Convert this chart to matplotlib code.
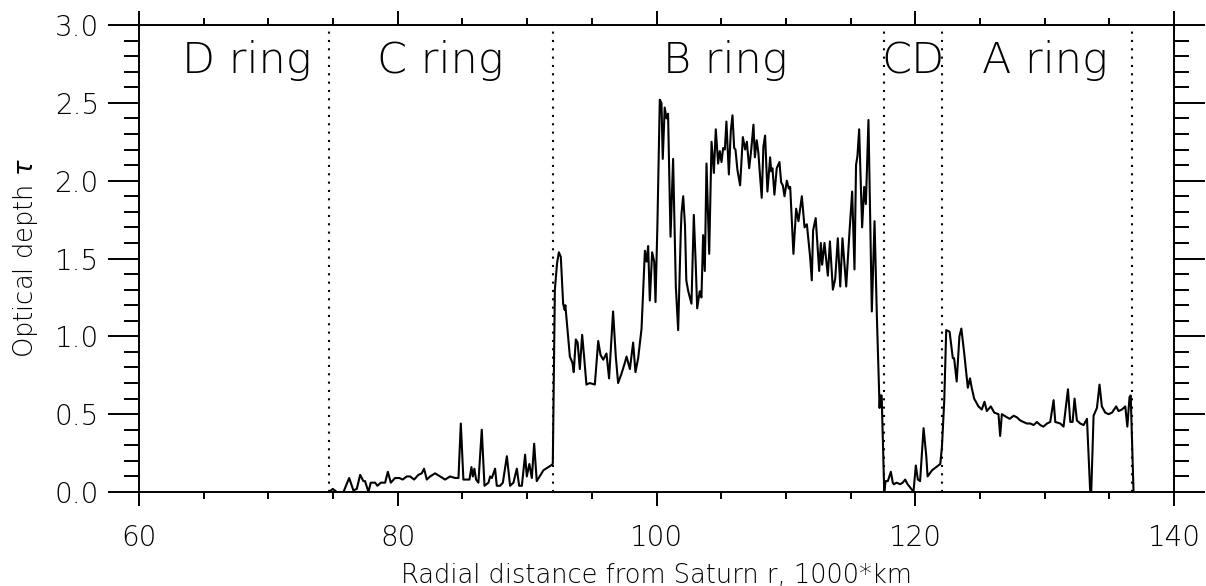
import matplotlib
matplotlib.use("Agg")
import matplotlib.pyplot as plt
import matplotlib.ticker as ticker

# ===== Ring boundaries and labels =====
ring_bounds = [74.66, 91.98, 117.55, 122.1, 136.77]
ring_names = ["D ring", "C ring", "B ring", "CD", "A ring"]
ring_label_x = [68.3, 83.3, 105.3, 119.8, 130.0]
ring_label_y = 2.69

# ===== Optical depth profile =====
r_c = [74.69, 74.97, 75.28, 75.80, 76.24, 76.57, 76.83, 77.09, 77.34, 77.47,
       77.73, 77.91, 78.25, 78.42, 78.69, 79.02, 79.23, 79.46, 79.79, 80.12,
       80.38, 80.69, 80.95, 81.26, 81.59, 81.85, 82.03, 82.24, 82.50, 82.88,
       83.27, 83.66, 84.04, 84.43, 84.69, 84.87, 85.07, 85.33, 85.54, 85.69,
       85.80, 85.92, 86.05, 86.23, 86.49, 86.70, 87.01, 87.14, 87.27, 87.52,
       87.65, 87.91, 88.12, 88.43, 88.68, 88.94, 89.20, 89.38, 89.59, 89.84,
       89.97, 90.17, 90.36, 90.54, 90.74, 91.26, 91.83, 91.98]
tau_c = [0.00, 0.02, 0.00, 0.00, 0.09, 0.01, 0.02, 0.11, 0.07, 0.07,
         0.00, 0.06, 0.06, 0.04, 0.06, 0.06, 0.13, 0.06, 0.09, 0.09,
         0.08, 0.10, 0.10, 0.08, 0.11, 0.12, 0.15, 0.08, 0.10, 0.12,
         0.10, 0.08, 0.10, 0.09, 0.09, 0.44, 0.08, 0.08, 0.08, 0.16,
         0.10, 0.15, 0.08, 0.06, 0.40, 0.04, 0.06, 0.10, 0.09, 0.15,
         0.04, 0.04, 0.06, 0.23, 0.04, 0.06, 0.15, 0.04, 0.04, 0.24,
         0.10, 0.18, 0.09, 0.31, 0.07, 0.14, 0.17, 0.18]

r_b = [92.14, 92.31, 92.45, 92.60, 92.78, 92.90, 92.95, 93.30, 93.50, 93.60,
       93.76, 93.90, 94.07, 94.25, 94.40, 94.58, 94.84, 95.23, 95.49, 95.67,
       95.88, 96.13, 96.33, 96.64, 96.85, 97.03, 97.29, 97.55, 97.68, 97.94,
       98.19, 98.37, 98.58, 98.84, 99.10, 99.23, 99.35, 99.48, 99.66, 99.82,
       99.92, 100.07, 100.25, 100.38, 100.48, 100.63, 100.77, 100.89, 101.08, 101.28,
       101.49, 101.67, 101.87, 101.93, 102.06, 102.20, 102.30, 102.45, 102.70, 102.88,
       103.03, 103.14, 103.34, 103.47, 103.60, 103.73, 103.86, 104.07, 104.25, 104.43,
       104.58, 104.76, 104.89, 105.02, 105.15, 105.28, 105.40, 105.59, 105.74, 105.87,
       106.00, 106.10, 106.25, 106.46, 106.67, 106.85, 106.98, 107.16, 107.32, 107.49,
       107.60, 107.74, 107.87, 108.00, 108.13, 108.26, 108.39, 108.57, 108.78, 108.86,
       108.96, 109.11, 109.29, 109.50, 109.63, 109.76, 109.89, 110.07, 110.22, 110.33,
       110.58, 110.79, 110.97, 111.23, 111.44, 111.62, 111.87, 112.00, 112.10, 112.30,
       112.57, 112.70, 112.80, 112.98, 113.24, 113.40, 113.63, 113.81, 114.01, 114.20,
       114.37, 114.66, 114.92, 115.12, 115.30, 115.42, 115.53, 115.66, 115.89, 116.05,
       116.18, 116.38, 116.64, 116.85, 117.03, 117.24, 117.29, 117.40]
tau_b = [1.30, 1.47, 1.54, 1.51, 1.21, 1.17, 1.20, 0.87, 0.83, 0.77,
         0.98, 0.96, 0.79, 1.01, 0.87, 0.69, 0.70, 0.69, 0.97, 0.88,
         0.85, 0.89, 0.73, 1.16, 0.87, 0.70, 0.76, 0.83, 0.87, 0.79,
         0.96, 0.77, 0.86, 1.05, 1.55, 1.48, 1.58, 1.23, 1.54, 1.48,
         1.22, 1.73, 2.52, 2.50, 2.14, 2.47, 2.40, 2.43, 1.64, 2.14,
         1.32, 1.04, 1.66, 1.79, 1.90, 1.71, 1.36, 1.29, 1.21, 1.78,
         1.46, 1.18, 1.29, 1.25, 1.65, 1.42, 2.11, 1.53, 2.25, 2.05,
         2.33, 2.11, 2.19, 2.12, 2.21, 2.20, 2.38, 2.04, 2.32, 2.42,
         2.21, 2.20, 2.07, 1.97, 2.28, 2.20, 2.25, 2.08, 2.20, 2.36,
         2.15, 2.26, 2.18, 2.03, 1.89, 2.22, 2.29, 1.93, 2.15, 2.06,
         2.08, 1.91, 2.08, 2.12, 1.99, 1.97, 1.90, 2.00, 1.95, 1.96,
         1.53, 1.82, 1.74, 1.90, 1.70, 1.72, 1.51, 1.36, 1.68, 1.76,
         1.42, 1.60, 1.46, 1.60, 1.39, 1.61, 1.30, 1.37, 1.63, 1.32,
         1.63, 1.32, 1.68, 1.93, 1.43, 2.10, 2.16, 2.33, 1.70, 1.96,
         1.85, 2.39, 1.16, 1.74, 1.13, 0.54, 0.62, 0.62]

r_a = [117.60, 117.70, 117.88, 118.11, 118.26, 118.34, 118.55, 118.83, 119.03, 119.22,
       119.40, 119.60, 119.86, 120.04, 120.20, 120.37, 120.64, 120.85, 120.95, 121.30,
       121.93, 122.06, 122.24, 122.39, 122.65, 122.90, 123.00, 123.20, 123.41, 123.56,
       123.77, 124.06, 124.23, 124.36, 124.55, 124.88, 125.14, 125.35, 125.53, 125.84,
       126.10, 126.43, 126.56, 126.69, 127.08, 127.30, 127.60, 127.85, 128.11, 128.35,
       128.63, 128.90, 129.15, 129.40, 129.66, 129.90, 130.18, 130.43, 130.69, 130.82,
       131.21, 131.46, 131.80, 131.98, 132.16, 132.31, 132.49, 132.75, 133.01, 133.27,
       133.52, 133.60, 133.78, 134.04, 134.24, 134.42, 134.68, 134.94, 135.20, 135.53,
       135.71, 135.97, 136.23, 136.39, 136.56, 136.65, 136.87]
tau_a = [0.00, 0.07, 0.07, 0.13, 0.06, 0.05, 0.06, 0.05, 0.06, 0.08,
         0.05, 0.03, 0.00, 0.17, 0.08, 0.07, 0.41, 0.23, 0.10, 0.14,
         0.18, 0.29, 0.59, 1.04, 1.03, 0.86, 0.86, 0.71, 1.00, 1.05,
         0.90, 0.67, 0.73, 0.67, 0.60, 0.55, 0.53, 0.58, 0.52, 0.55,
         0.51, 0.50, 0.36, 0.50, 0.48, 0.47, 0.49, 0.48, 0.46, 0.45,
         0.44, 0.44, 0.43, 0.45, 0.43, 0.42, 0.44, 0.45, 0.59, 0.45,
         0.44, 0.42, 0.66, 0.45, 0.45, 0.60, 0.46, 0.44, 0.43, 0.47,
         0.00, 0.00, 0.49, 0.54, 0.69, 0.55, 0.51, 0.50, 0.51, 0.55,
         0.52, 0.53, 0.55, 0.42, 0.61, 0.62, 0.00]

radius = r_c + r_b + r_a
tau = tau_c + tau_b + tau_a

# ===== Styling =====
plt.rcParams['font.family'] = ['DejaVu Sans']
plt.rcParams['font.weight'] = 200
plt.rcParams['axes.labelweight'] = 200
tick_size = 20
label_size = 18.5
ring_size = 31

fig = plt.figure(figsize=(12.06, 5.86), dpi=100)
ax = fig.add_axes([0.1153, 0.1604, 0.8582, 0.7969])

# ===== Ring boundaries (dotted) and profile =====
ax.vlines(ring_bounds, 0, 3, colors="black", linewidth=1.5, linestyles=(0, (1, 3)))
ax.plot(radius, tau, color="black", linewidth=1.5)

for name, xpos in zip(ring_names, ring_label_x):
    ax.text(xpos, ring_label_y, name, fontsize=ring_size, ha="center", va="baseline")

# ===== Axes =====
ax.set_xlim(60, 140)
ax.set_ylim(0, 3)
ax.xaxis.set_major_locator(ticker.MultipleLocator(20))
ax.xaxis.set_minor_locator(ticker.MultipleLocator(5))
ax.yaxis.set_major_locator(ticker.MultipleLocator(0.5))
ax.yaxis.set_minor_locator(ticker.MultipleLocator(0.1))
ax.yaxis.set_major_formatter(ticker.FormatStrFormatter('%.1f'))

ax.tick_params(axis='x', which='both', direction='out', top=True, bottom=True,
               width=1.4, labelsize=tick_size, pad=13)
ax.tick_params(axis='x', which='major', length=10)
ax.tick_params(axis='x', which='minor', length=5)
ax.tick_params(axis='y', which='both', direction='out', left=True, right=True,
               width=1.4, labelsize=tick_size, pad=7)
ax.tick_params(axis='y', which='major', length=22)
ax.tick_params(axis='y', which='minor', length=11)
for spine in ax.spines.values():
    spine.set_linewidth(1.4)

ax.set_xlabel("Radial distance from Saturn r, 1000*km", fontsize=label_size, va="center")
ax.xaxis.set_label_coords(0.5, -0.178)
ax.set_ylabel(r"Optical depth $\tau$", fontsize=label_size, va="center")
ax.yaxis.set_label_coords(-0.110, 0.5)

plt.savefig("out.png", dpi=100)
